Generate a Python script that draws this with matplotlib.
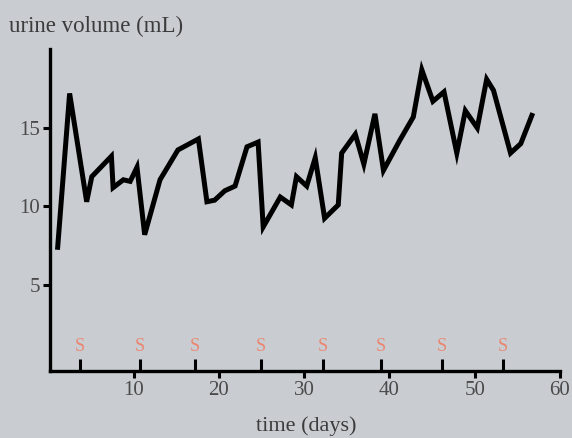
import matplotlib.pyplot as plt

# urine volume readings (day, mL)
days = [1.1, 2.5, 4.5, 5.1, 7.4, 7.6, 8.8, 9.6, 10.4, 11.3, 13.1, 15.2, 17.6,
        18.6, 19.5, 20.7, 21.9, 23.3, 24.6, 25.2, 27.2, 28.5, 29.1, 30.3, 31.3,
        32.4, 34.0, 34.4, 36.0, 37.0, 38.3, 39.3, 41.2, 42.8, 43.8, 45.1, 46.4,
        47.9, 48.9, 50.3, 51.4, 52.2, 54.2, 55.4, 56.7]
volume = [7.4, 17.2, 10.3, 11.9, 13.2, 11.2, 11.7, 11.6, 12.5, 8.2, 11.7, 13.6,
          14.3, 10.3, 10.4, 11.0, 11.3, 13.8, 14.1, 8.7, 10.6, 10.1, 11.9, 11.3,
          13.1, 9.25, 10.1, 13.4, 14.6, 12.7, 15.9, 12.3, 14.2, 15.7, 18.7, 16.7,
          17.3, 13.4, 16.1, 15.0, 18.1, 17.4, 13.4, 14.0, 15.8]

# days marked with "S"
s_days = [3.7, 10.7, 17.2, 24.9, 32.2, 39.0, 46.2, 53.3]

xticks = [10, 20, 30, 40, 50, 60]
yticks = [5, 10, 15]

bg = '#c9cdd1'
txt = '#3c3c3c'
plt.rcParams['font.family'] = ['Liberation Serif', 'DejaVu Serif']

fig = plt.figure(figsize=(5.72, 4.38), dpi=100, facecolor=bg)
ax = fig.add_axes([50/572, 1 - 371/438, 510/572, 322/438])
ax.set_facecolor(bg)

ax.plot(days, volume, color='black', linewidth=3.6, solid_joinstyle='miter')

# S markers with short ticks
ax.vlines(s_days, -0.48, 0.3, color='black', linewidth=2.2)
for d in s_days:
    ax.text(d, 1.05, 'S', color='#ee7f68', fontsize=13, ha='center',
            va='center', alpha=0.9)

ax.set_xlim(0.2, 60)
ax.set_ylim(-0.48, 20.03)
ax.set_xticks(xticks)
ax.set_yticks(yticks)
ax.tick_params(axis='both', colors='black', width=2.2, length=5,
               labelcolor='#4a4a4a', labelsize=15, pad=2)
for side in ['top', 'right']:
    ax.spines[side].set_visible(False)
for side in ['left', 'bottom']:
    ax.spines[side].set_linewidth(2.4)

fig.text(9/572, 1 - 32/438, 'urine volume (mL)', fontsize=16.5, color=txt,
         ha='left', va='baseline')
fig.text(306/572, 1 - 431/438, 'time (days)', fontsize=16, color=txt,
         ha='center', va='baseline')

fig.savefig('out.png', dpi=100, facecolor=bg)
